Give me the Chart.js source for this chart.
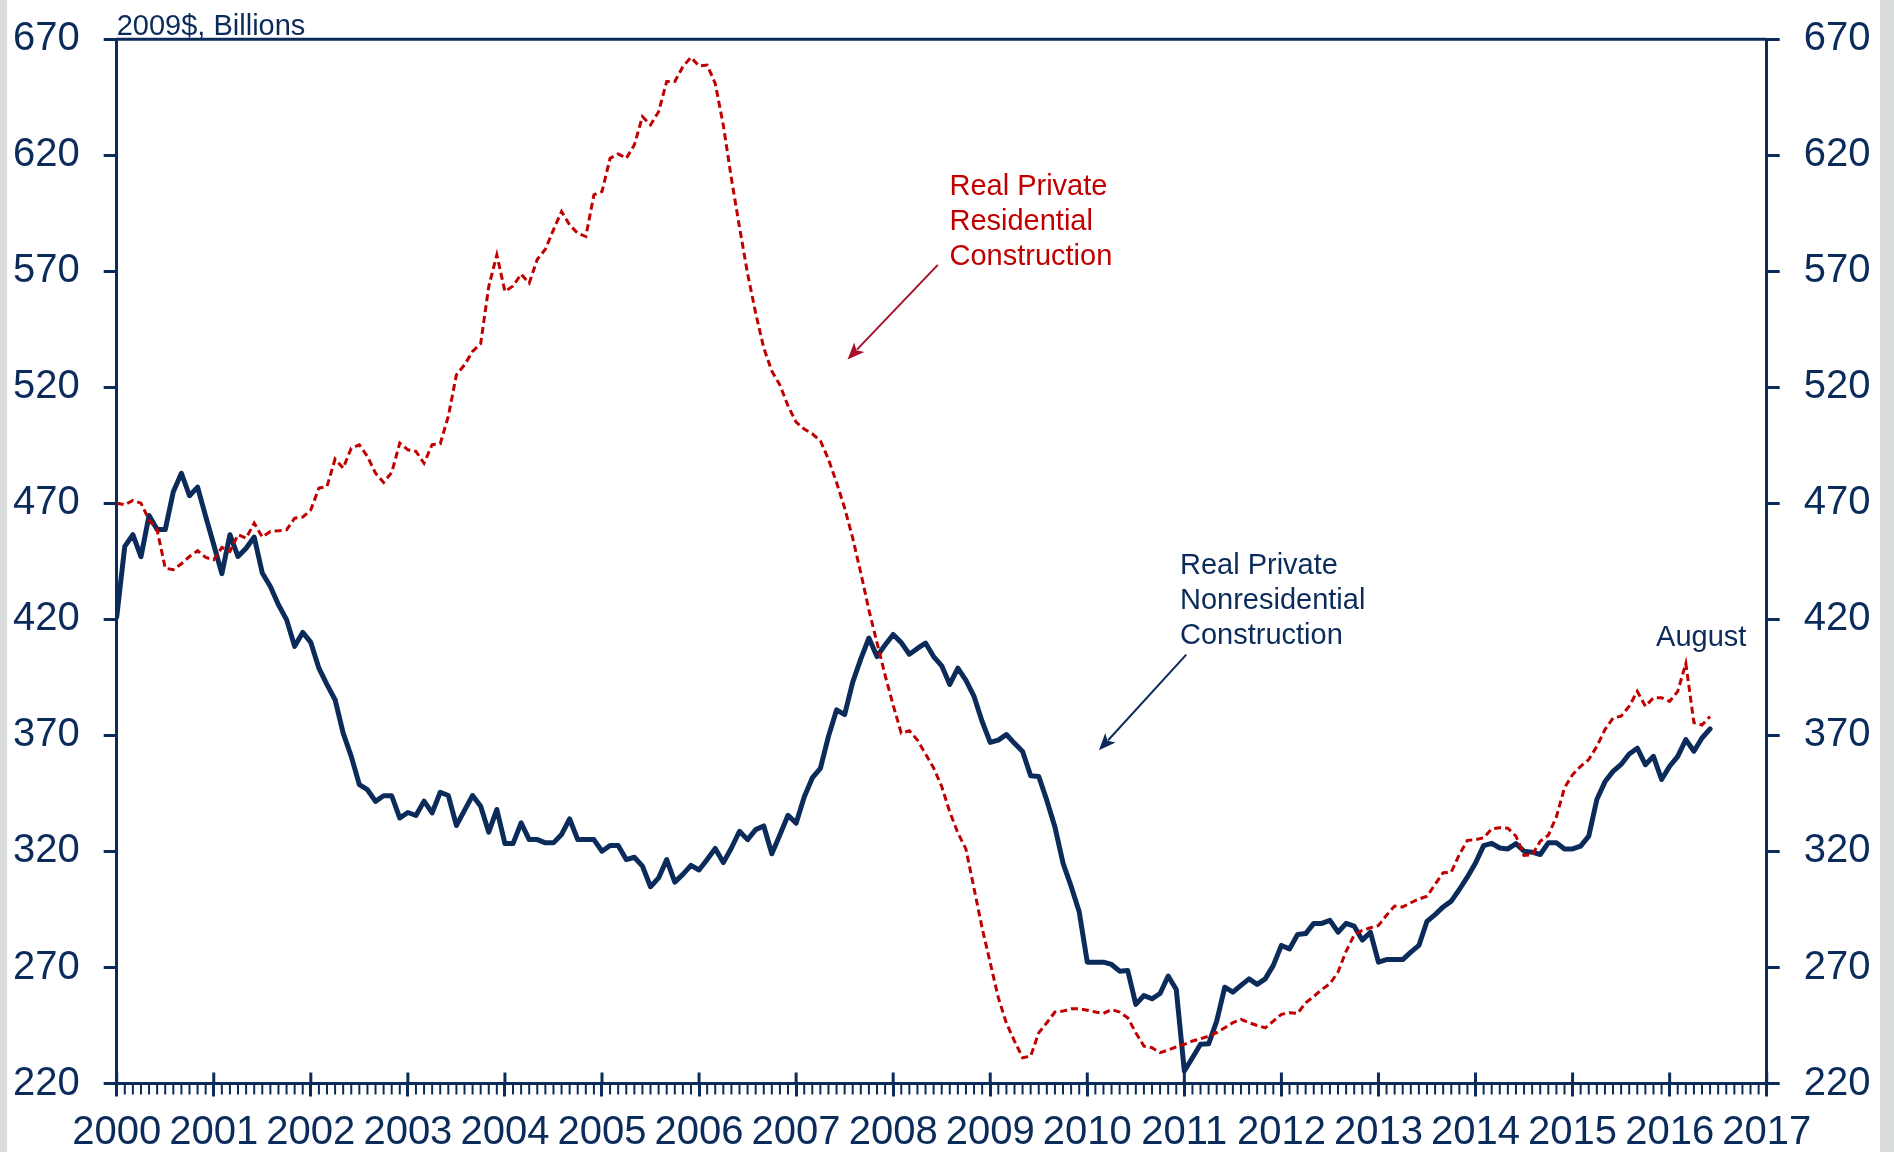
<!DOCTYPE html>
<html>
<head>
<meta charset="utf-8">
<title>Real Private Construction Spending</title>
<script src="https://cdn.jsdelivr.net/npm/chart.js"></script>
<style>
  html, body { margin: 0; padding: 0; background: #fff; }
  #wrap { position: relative; width: 1894px; height: 1152px; overflow: hidden; }
  .edge { position: absolute; top: 0; height: 1152px; background: #d9dddc; }
  #edgeL { left: 0; width: 7px; }
  #edgeR { left: 1880px; width: 14px; }
</style>
</head>
<body>
<div id="wrap">
  <canvas id="chart" width="1894" height="1152"></canvas>
  <div class="edge" id="edgeL"></div>
  <div class="edge" id="edgeR"></div>
</div>
<script>
const NAVY = '#0b2c5a';
const RED = '#c00000';
const ARROW_RED = '#a8102a';
const FONT = "'Liberation Sans', Arial, sans-serif";

// monthly series, Jan 2000 onward, 2009$ billions (one row per year)
const startYear = 2000;
const nonresidential = [
  421, 451.5, 456.5, 447, 464.8, 458.7, 458.7, 475, 483, 473.3, 477, 464.4,
  452.2, 439.7, 456.5, 447.1, 450.7, 455.5, 440, 434.2, 426.3, 419.9, 408.4, 414.4,
  410.1, 399, 391.9, 385.4, 371, 361, 348.8, 346.6, 341.6, 344, 344, 334.4,
  336.8, 335.5, 341.7, 336.6, 345.5, 344.1, 331.2, 337.7, 344.1, 339.5, 328.3, 338.1,
  323.4, 323.4, 332.3, 325.1, 325.1, 323.7, 323.7, 327.3, 334, 325.1, 325.1, 325.1,
  320.1, 322.6, 322.6, 316.5, 317.5, 313.7, 304.8, 308.6, 316.5, 306.8, 310.1, 314,
  312, 316.5, 321.3, 315.2, 321.5, 328.7, 325.1, 329.4, 331, 319, 327.2, 335.6,
  332.2, 343.5, 351.7, 355.8, 369.6, 381, 379, 393, 403, 412, 404, 409,
  413.5, 410, 405, 407.5, 409.8, 404, 400, 392, 399, 393.7, 386.8, 376,
  367, 368, 370.4, 366.6, 363.1, 352.6, 352.3, 342, 330.5, 315, 305, 294,
  272.3, 272.3, 272.3, 271.3, 268.4, 268.7, 254.1, 257.9, 256.5, 258.8, 266.3, 260.5,
  225.4, 231.1, 236.9, 237.1, 246.9, 261.5, 259.4, 262.3, 265.1, 262.7, 265.1, 270.9,
  279.5, 278, 284.2, 284.6, 289, 289, 290.3, 285.2, 289, 287.8, 281.8, 285.2,
  272.3, 273.4, 273.4, 273.4, 276.6, 279.5, 289.9, 292.8, 296.1, 298.6, 303.6, 309,
  315, 322.5, 323.5, 321.5, 321.1, 323.4, 320.1, 319.7, 318.7, 323.7, 323.7, 321.1,
  321.1, 322.3, 326.6, 342.4, 350, 354.5, 357.5, 362, 364.5, 357.4, 361, 351,
  356.7, 361, 368.2, 363.2, 368.9, 372.8
];
const residential = [
  470.1, 469.4, 471.3, 470.1, 462.9, 458.6, 442.1, 441.4, 444, 447.1, 449.6, 446.7,
  445.7, 451, 449.3, 456.5, 455, 461.5, 455.5, 457.9, 458.2, 458.6, 463.6, 464.1,
  467.2, 476.6, 477.3, 489.1, 485.2, 493.8, 495.2, 490.2, 483, 479, 483.3, 496,
  493.1, 492.4, 487.3, 495.3, 495.7, 507.5, 525.4, 529.7, 535.5, 538.8, 563.5, 577.1,
  561.3, 563.7, 568.8, 564.9, 575.2, 579.5, 587.9, 595.8, 590, 586.4, 585, 603,
  604.4, 618.7, 620.6, 618.7, 624.5, 636.7, 633.1, 638.8, 651.8, 651.8, 658.2, 662.2,
  658.5, 658.9, 651, 633, 610, 589, 569, 552, 537, 527, 521, 512,
  505, 502, 500, 497, 489, 479, 468, 455, 440, 424, 410, 396,
  383, 371, 372, 368, 362, 356, 348, 337, 328, 321, 304, 287,
  272, 257, 246, 238.3, 231.1, 231.8, 241.9, 246.2, 250.8, 251.2, 252.2, 252.2,
  251.6, 250.8, 250.2, 251.9, 250.8, 248.3, 241.9, 236.1, 235.4, 233.3, 234.4, 235.8,
  236.9, 238.3, 239.3, 240.4, 241.9, 244, 246.2, 247.6, 246.2, 245, 244, 246.9,
  249.8, 250.5, 250.2, 254.8, 257.5, 260.5, 263, 268, 277, 284, 286, 287.1,
  288.1, 292.5, 296.5, 296.1, 297.9, 299.5, 300.7, 305.8, 310.8, 311.1, 318.7, 324.8,
  325.1, 325.9, 329.7, 330.2, 330, 326.6, 318.3, 318.5, 324.4, 327, 335, 347.4,
  353.1, 356.7, 359.6, 365.3, 372.5, 377.5, 378.3, 382.6, 389, 382.6, 386.2, 386.2,
  384.7, 389, 401, 375.5, 374.5, 378.2
];

const months = nonresidential.map((_, i) => startYear + i / 12);

// annotation text, anchored in data units (year, value)
const residentialNote = ['Real Private', 'Residential', 'Construction'];
const residentialNoteAt = [2008.58, 606.4];
const residentialArrow = [[2008.46, 572.8], [2007.53, 532]];
const nonresNote = ['Real Private', 'Nonresidential', 'Construction'];
const nonresNoteAt = [2010.955, 442.9];
const nonresArrow = [[2011.02, 404.8], [2010.12, 363.6]];
const lastNote = 'August';
const lastNoteAt = [2015.86, 412.1];

function arrow(ctx, x0, y0, x1, y1, color) {
  const ang = Math.atan2(y1 - y0, x1 - x0);
  const len = 17, half = 7;
  ctx.strokeStyle = color;
  ctx.fillStyle = color;
  ctx.lineWidth = 2;
  ctx.beginPath();
  ctx.moveTo(x0, y0);
  ctx.lineTo(x1 - Math.cos(ang) * len * 0.8, y1 - Math.sin(ang) * len * 0.8);
  ctx.stroke();
  ctx.beginPath();
  ctx.moveTo(x1, y1);
  ctx.lineTo(x1 - Math.cos(ang) * len + Math.sin(ang) * half, y1 - Math.sin(ang) * len - Math.cos(ang) * half);
  ctx.lineTo(x1 - Math.cos(ang) * len * 0.75, y1 - Math.sin(ang) * len * 0.75);
  ctx.lineTo(x1 - Math.cos(ang) * len - Math.sin(ang) * half, y1 - Math.sin(ang) * len + Math.cos(ang) * half);
  ctx.closePath();
  ctx.fill();
}

const decor = {
  id: 'decor',
  afterDraw(chart) {
    const {ctx, chartArea: a, scales: {x, y}} = chart;
    const seg = (x0, y0, x1, y1) => { ctx.beginPath(); ctx.moveTo(x0, y0); ctx.lineTo(x1, y1); ctx.stroke(); };
    ctx.save();
    ctx.strokeStyle = NAVY;
    ctx.lineWidth = 3;
    seg(a.left, a.top, a.right, a.top);
    // year ticks also poke up into the plot
    for (let yr = 2000; yr <= 2017; yr++) {
      const px = x.getPixelForValue(yr);
      seg(px, a.bottom - 11, px, a.bottom);
    }
    // monthly minor ticks
    ctx.lineWidth = 2;
    for (let m = 1; m < 17 * 12; m++) {
      if (m % 12 === 0) continue;
      const px = x.getPixelForValue(startYear + m / 12);
      seg(px, a.bottom, px, a.bottom + 11);
    }

    // unit label
    ctx.fillStyle = NAVY;
    ctx.font = '29px ' + FONT;
    ctx.textBaseline = 'alphabetic';
    ctx.textAlign = 'left';
    ctx.fillText('2009$, Billions', a.left, a.top - 4.5);

    ctx.font = '29px ' + FONT;
    ctx.textBaseline = 'middle';
    const lh = 35 / (y.getPixelForValue(0) - y.getPixelForValue(1));

    ctx.fillStyle = RED;
    residentialNote.forEach((t, i) => {
      ctx.fillText(t, x.getPixelForValue(residentialNoteAt[0]), y.getPixelForValue(residentialNoteAt[1] - i * lh));
    });
    arrow(ctx,
      x.getPixelForValue(residentialArrow[0][0]), y.getPixelForValue(residentialArrow[0][1]),
      x.getPixelForValue(residentialArrow[1][0]), y.getPixelForValue(residentialArrow[1][1]), ARROW_RED);

    ctx.fillStyle = NAVY;
    nonresNote.forEach((t, i) => {
      ctx.fillText(t, x.getPixelForValue(nonresNoteAt[0]), y.getPixelForValue(nonresNoteAt[1] - i * lh));
    });
    arrow(ctx,
      x.getPixelForValue(nonresArrow[0][0]), y.getPixelForValue(nonresArrow[0][1]),
      x.getPixelForValue(nonresArrow[1][0]), y.getPixelForValue(nonresArrow[1][1]), NAVY);

    ctx.fillStyle = NAVY;
    ctx.fillText(lastNote, x.getPixelForValue(lastNoteAt[0]), y.getPixelForValue(lastNoteAt[1]));
    ctx.restore();
  }
};

// fixed box sizes so the plot area lands where the original's does
const fixBox = (w, h) => s => {
  if (w) s.width = w;
  if (h) s.height = h;
  s.paddingTop = s.paddingBottom = s.paddingLeft = s.paddingRight = 0;
};

const yAxis = (position, width) => ({
  type: 'linear',
  position,
  min: 220,
  max: 670,
  afterFit: fixBox(width, 0),
  border: { display: true, color: NAVY, width: 3 },
  grid: { drawOnChartArea: false, color: NAVY, lineWidth: 3, tickLength: 13 },
  ticks: { stepSize: 50, padding: 24, color: NAVY, font: { family: FONT, size: 40 } }
});

new Chart(document.getElementById('chart'), {
  type: 'line',
  data: {
    datasets: [
      {
        label: 'Real Private Residential Construction',
        data: residential.map((v, i) => ({ x: months[i], y: v })),
        borderColor: RED,
        borderWidth: 3,
        borderDash: [7, 4],
        pointRadius: 0,
        tension: 0
      },
      {
        label: 'Real Private Nonresidential Construction',
        data: nonresidential.map((v, i) => ({ x: months[i], y: v })),
        borderColor: NAVY,
        borderWidth: 5,
        borderJoinStyle: 'round',
        borderCapStyle: 'round',
        pointRadius: 0,
        tension: 0
      }
    ]
  },
  options: {
    responsive: false,
    animation: false,
    events: [],
    layout: { padding: { top: 39.3, left: 0, right: 0, bottom: 0 } },
    plugins: {
      legend: { display: false },
      tooltip: { enabled: false }
    },
    scales: {
      x: {
        type: 'linear',
        min: 2000,
        max: 2017,
        afterFit: fixBox(0, 68.5),
        border: { display: true, color: NAVY, width: 3 },
        grid: { drawOnChartArea: false, color: NAVY, lineWidth: 3, tickLength: 13 },
        ticks: {
          stepSize: 1,
          maxTicksLimit: 30,
          autoSkip: false,
          maxRotation: 0,
          padding: 12,
          color: NAVY,
          font: { family: FONT, size: 40 },
          callback: v => String(v)
        }
      },
      y: yAxis('left', 116.7),
      y2: yAxis('right', 127.3)
    }
  },
  plugins: [decor]
});
</script>
</body>
</html>
